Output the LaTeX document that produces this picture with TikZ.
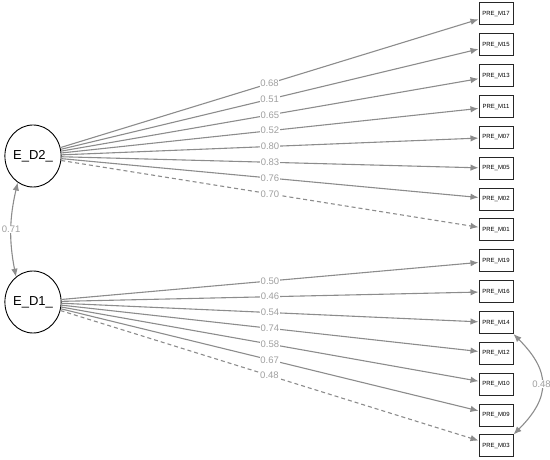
\documentclass[tikz,border=0pt]{standalone}
\usepackage{fontspec}
\setmainfont{Liberation Sans}
\usetikzlibrary{arrows.meta,shapes.geometric}
\definecolor{Edge}{HTML}{8C8C8C}
\definecolor{Coef}{HTML}{A0A0A0}

\begin{document}
\begin{tikzpicture}[x=1pt,y=1pt,
  latent/.style={ellipse,draw=black,line width=0.9pt,minimum width=50pt,minimum height=62pt,inner sep=0pt,font=\fontsize{13}{15}\selectfont},
  item/.style={rectangle,draw=black!85,line width=1pt,minimum width=34pt,minimum height=22pt,inner sep=0pt,font=\fontsize{6}{7}\selectfont},
  load/.style={draw=Edge,line width=1.1pt,-{Latex[length=8pt,width=6.5pt]}},
  cov/.style={draw=Edge,line width=1.1pt,{Latex[length=8pt,width=6.5pt]}-{Latex[length=8pt,width=6.5pt]}},
  fixed/.style={dash pattern=on 4pt off 3pt},
  coef/.style={fill=white,inner sep=0.6pt,text=Coef,font=\fontsize{9.5}{10}\selectfont}
]
  \path[use as bounding box] (0,0) rectangle (550,460);

  \node[latent] (ed2) at (33,304) {E\_D2\_};
  \node[latent] (ed1) at (33,158) {E\_D1\_};

  \node[item] (m17) at (496,446.0) {PRE\_M17};
  \node[item] (m15) at (496,415.1) {PRE\_M15};
  \node[item] (m13) at (496,384.3) {PRE\_M13};
  \node[item] (m11) at (496,353.4) {PRE\_M11};
  \node[item] (m07) at (496,322.6) {PRE\_M07};
  \node[item] (m05) at (496,291.7) {PRE\_M05};
  \node[item] (m02) at (496,260.9) {PRE\_M02};
  \node[item] (m01) at (496,230.0) {PRE\_M01};
  \node[item] (m19) at (496,199.1) {PRE\_M19};
  \node[item] (m16) at (496,168.3) {PRE\_M16};
  \node[item] (m14) at (496,137.4) {PRE\_M14};
  \node[item] (m12) at (496,106.6) {PRE\_M12};
  \node[item] (m10) at (496,75.7) {PRE\_M10};
  \node[item] (m09) at (496,44.9) {PRE\_M09};
  \node[item] (m03) at (496,14.0) {PRE\_M03};

  \draw[load] (ed2) -- node[coef] {0.68} (m17);
  \draw[load] (ed2) -- node[coef] {0.51} (m15);
  \draw[load] (ed2) -- node[coef] {0.65} (m13);
  \draw[load] (ed2) -- node[coef] {0.52} (m11);
  \draw[load] (ed2) -- node[coef] {0.80} (m07);
  \draw[load] (ed2) -- node[coef] {0.83} (m05);
  \draw[load] (ed2) -- node[coef] {0.76} (m02);
  \draw[load,fixed] (ed2) -- node[coef] {0.70} (m01);

  \draw[load] (ed1) -- node[coef] {0.50} (m19);
  \draw[load] (ed1) -- node[coef] {0.46} (m16);
  \draw[load] (ed1) -- node[coef] {0.54} (m14);
  \draw[load] (ed1) -- node[coef] {0.74} (m12);
  \draw[load] (ed1) -- node[coef] {0.58} (m10);
  \draw[load] (ed1) -- node[coef] {0.67} (m09);
  \draw[load,fixed] (ed1) -- node[coef] {0.48} (m03);

  \draw[cov] (ed2.240) to[bend right=12] node[coef] {0.71} (ed1.124);
  \draw[cov] (m14.south east) to[out=-45,in=45,looseness=1.35] node[coef] {0.48} (m03.north east);
\end{tikzpicture}
\end{document}
